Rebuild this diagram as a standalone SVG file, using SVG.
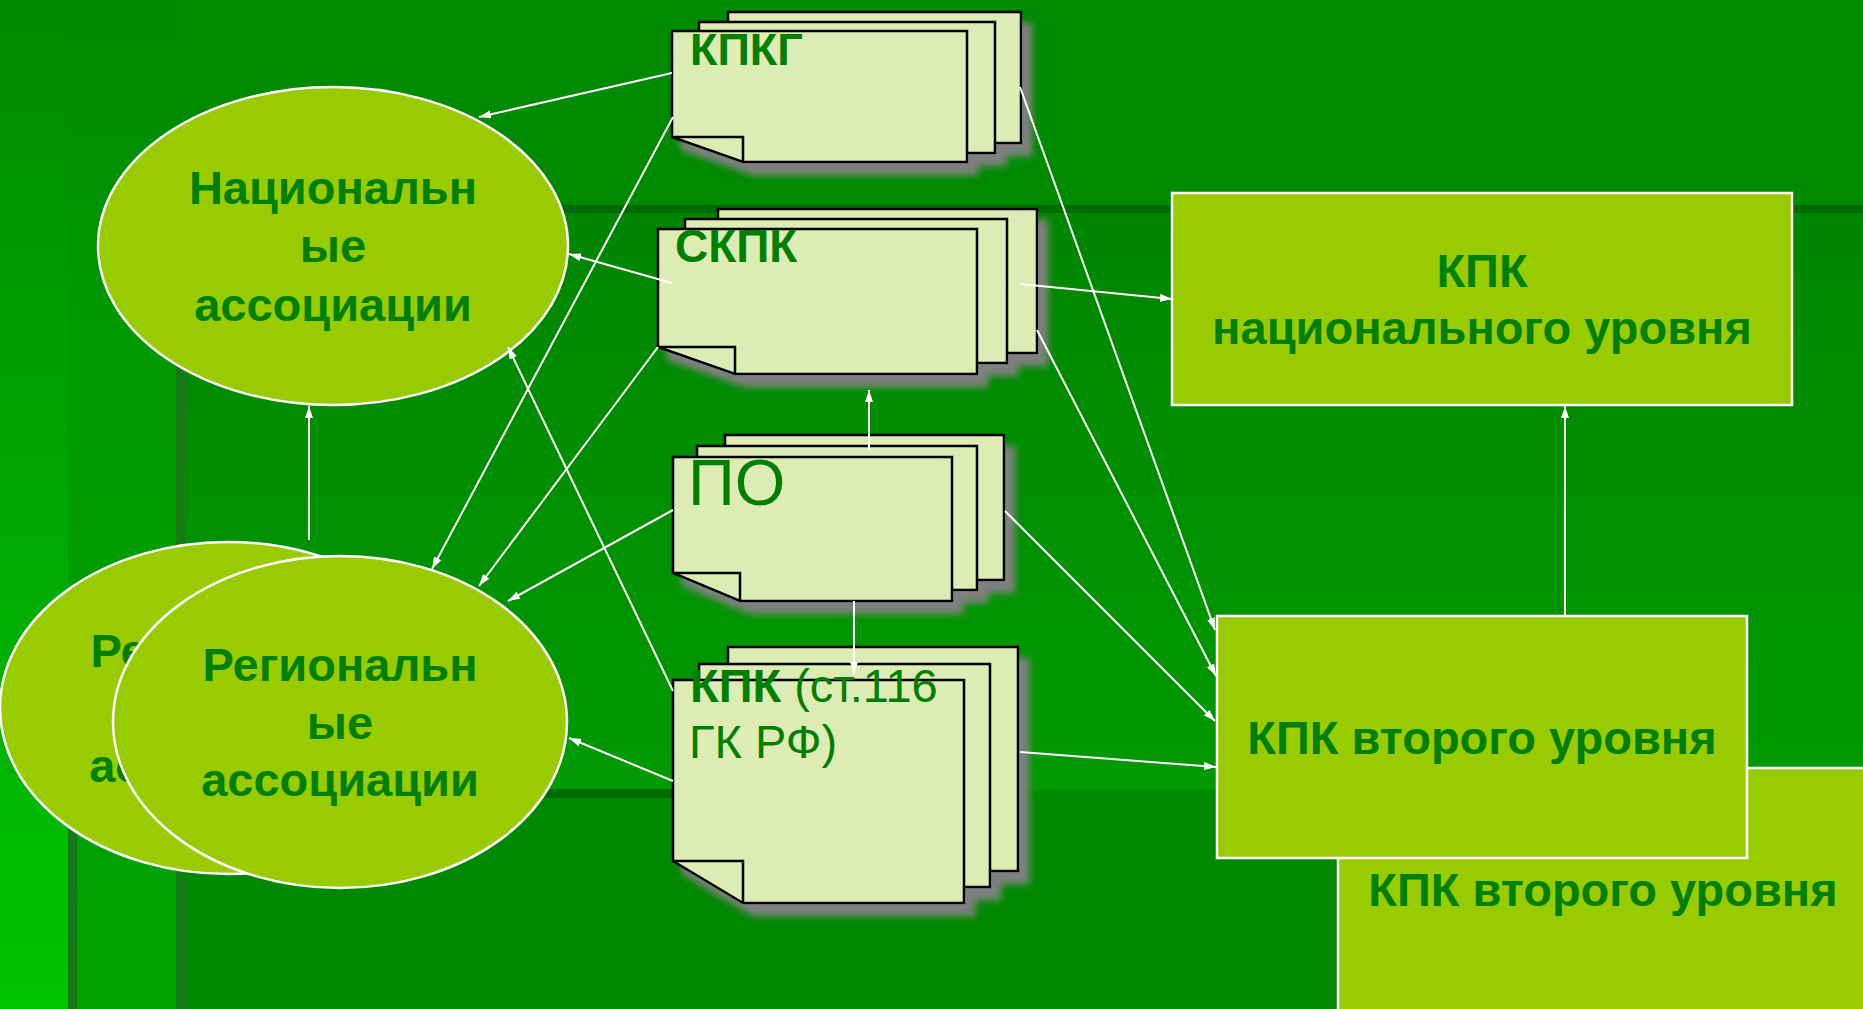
<svg xmlns="http://www.w3.org/2000/svg" width="1863" height="1009" viewBox="0 0 1863 1009">
<defs>
<style>
.t{font-family:"Liberation Sans",Arial,sans-serif;fill:#008000;}
.b{font-weight:bold;font-size:47px;}
.oval{fill:#99CC00;stroke:#ffffff;stroke-width:2.5;}
.box{fill:#99CC00;stroke:#ffffff;stroke-width:2.5;}
.pg{fill:#DDEBB5;stroke:#000000;stroke-width:2.5;stroke-linejoin:miter;}
.fl{fill:none;stroke:#000000;stroke-width:2.5;}
.cn{stroke:#ffffff;stroke-width:2;fill:none;marker-end:url(#ah);}
</style>
<marker id="ah" viewBox="0 0 12 8" markerWidth="12" markerHeight="8" markerUnits="userSpaceOnUse" refX="12" refY="4" orient="auto">
<path d="M0,0 L12,4 L0,8 Z" fill="#ffffff"/>
</marker>
<filter id="sh" x="-10%" y="-10%" width="130%" height="140%">
<feDropShadow dx="10" dy="12" stdDeviation="3.5" flood-color="#808080" flood-opacity="1"/>
</filter>
<linearGradient id="gLeft" x1="0" y1="0" x2="0" y2="1">
<stop offset="0" stop-color="#008800"/>
<stop offset="0.3" stop-color="#009800"/>
<stop offset="1" stop-color="#00a400"/>
</linearGradient>
<linearGradient id="gEdge" x1="0" y1="0" x2="0" y2="1">
<stop offset="0" stop-color="#008800"/>
<stop offset="0.3" stop-color="#009c00"/>
<stop offset="1" stop-color="#00c400"/>
</linearGradient>
<linearGradient id="gFrame" x1="0" y1="0" x2="0" y2="1">
<stop offset="0" stop-color="#008500"/>
<stop offset="1" stop-color="#009a00"/>
</linearGradient>
</defs>

<g id="background">
<rect x="0" y="0" width="1863" height="1009" fill="#008a00"/>
<rect x="0" y="0" width="176" height="1009" fill="url(#gLeft)"/>
<rect x="0" y="0" width="68" height="1009" fill="url(#gEdge)"/>
<rect x="185" y="213" width="1678" height="577" fill="url(#gFrame)"/>
<rect x="185" y="798" width="1678" height="211" fill="#008800"/>
<rect x="176" y="205" width="1687" height="8" fill="#006c00"/>
<rect x="176" y="205" width="9" height="804" fill="#157a15"/>
<rect x="68" y="789" width="850" height="9" fill="#006c00"/>
<rect x="68" y="789" width="9" height="220" fill="#157a15"/>
</g>

<g id="kpk2-back">
<rect class="box" x="1338" y="768" width="600" height="300"/>
<text class="t b" x="1603" y="906" text-anchor="middle">КПК второго уровня</text>
</g>

<g id="reg-assoc-back">
<ellipse class="oval" cx="228" cy="708" rx="228" ry="166"/>
<text class="t b" x="228" y="667" text-anchor="middle">Региональн</text>
<text class="t b" x="228" y="782" text-anchor="middle">ассоциации</text>
</g>

<g id="reg-assoc">
<ellipse class="oval" cx="340" cy="722" rx="227" ry="166"/>
<text class="t b" x="340" y="681" text-anchor="middle">Региональн</text>
<text class="t b" x="340" y="739" text-anchor="middle">ые</text>
<text class="t b" x="340" y="796" text-anchor="middle">ассоциации</text>
</g>

<g id="nat-assoc">
<ellipse class="oval" cx="333" cy="246" rx="235" ry="159"/>
<text class="t b" x="333" y="204" text-anchor="middle">Национальн</text>
<text class="t b" x="333" y="262" text-anchor="middle">ые</text>
<text class="t b" x="333" y="321" text-anchor="middle">ассоциации</text>
</g>

<g id="kpk-national">
<rect class="box" x="1172" y="193" width="620" height="212"/>
<text class="t b" x="1482" y="287" text-anchor="middle">КПК</text>
<text class="t b" x="1482" y="344" text-anchor="middle">национального уровня</text>
</g>

<g id="kpk2">
<rect class="box" x="1217" y="616" width="530" height="242"/>
<text class="t b" x="1482" y="754" text-anchor="middle">КПК второго уровня</text>
</g>

<g id="kpkg">
<g filter="url(#sh)">
<path class="pg" d="M728,12 H1021 V143 H799 L728,118 Z"/>
<path class="pg" d="M699,22 H995 V153 H770 L699,128 Z"/>
<path class="pg" d="M672,31 H967 V162 H743 L672,137 Z"/>
</g>
<path class="fl" d="M672,137 H743 V162"/>
<text class="t" x="690" y="65" font-size="45" font-weight="bold">КПКГ</text>
</g>

<g id="skpk">
<g filter="url(#sh)">
<path class="pg" d="M718,209 H1037 V353 H795 L718,326 Z"/>
<path class="pg" d="M685,219 H1007 V363 H762 L685,336 Z"/>
<path class="pg" d="M658,229 H977 V374 H735 L658,347 Z"/>
</g>
<path class="fl" d="M658,347 H735 V374"/>
<text class="t" x="675" y="262" font-size="46" font-weight="bold">СКПК</text>
</g>

<g id="po">
<g filter="url(#sh)">
<path class="pg" d="M725,435 H1004 V580 H792 L725,552 Z"/>
<path class="pg" d="M697,446 H977 V590 H764 L697,562 Z"/>
<path class="pg" d="M673,457 H952 V601 H740 L673,573 Z"/>
</g>
<path class="fl" d="M673,573 H740 V601"/>
<text class="t" x="688" y="505" font-size="65">ПО</text>
</g>

<g id="kpk116">
<g filter="url(#sh)">
<path class="pg" d="M728,647 H1018 V871 H798 L728,829 Z"/>
<path class="pg" d="M699,664 H990 V887 H769 L699,845 Z"/>
<path class="pg" d="M673,680 H964 V903 H743 L673,861 Z"/>
</g>
<path class="fl" d="M673,861 H743 V903"/>
<text class="t" x="690" y="702" font-size="47"><tspan font-weight="bold">КПК</tspan> (ст.116</text>
<text class="t" x="689" y="758" font-size="47">ГК РФ)</text>
</g>

<g id="connectors">
<line class="cn" x1="672" y1="73" x2="479" y2="117"/>
<line class="cn" x1="673" y1="117" x2="432" y2="569"/>
<line class="cn" x1="672" y1="283" x2="569" y2="254"/>
<line class="cn" x1="658" y1="347" x2="479" y2="586"/>
<line class="cn" x1="673" y1="510" x2="508" y2="601"/>
<line class="cn" x1="673" y1="691" x2="508" y2="347"/>
<line class="cn" x1="673" y1="781" x2="569" y2="738"/>
<line class="cn" x1="309" y1="540" x2="309" y2="406"/>
<line class="cn" x1="869" y1="450" x2="869" y2="390"/>
<line class="cn" x1="854" y1="601" x2="854" y2="674"/>
<line class="cn" x1="1020" y1="87" x2="1215" y2="630"/>
<line class="cn" x1="1020" y1="284" x2="1172" y2="299"/>
<line class="cn" x1="1037" y1="330" x2="1216" y2="676"/>
<line class="cn" x1="1005" y1="511" x2="1215" y2="721"/>
<line class="cn" x1="1020" y1="752" x2="1216" y2="767"/>
<line class="cn" x1="1565" y1="616" x2="1565" y2="406"/>
</g>
</svg>
